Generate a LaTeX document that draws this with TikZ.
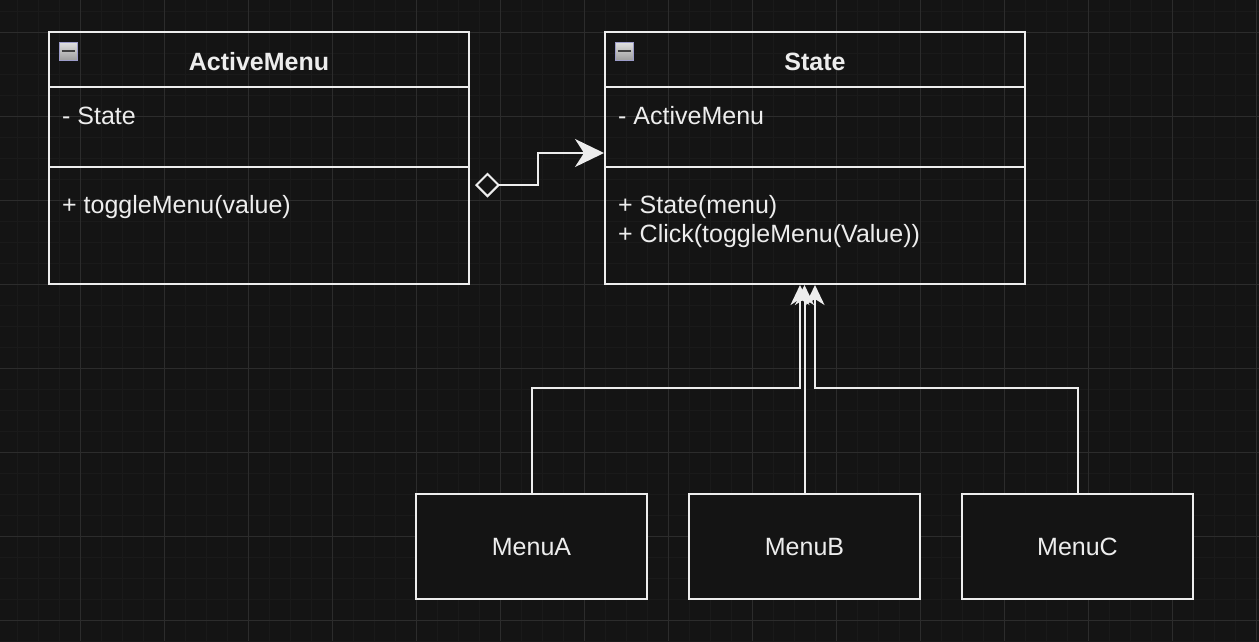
\documentclass[tikz,border=0pt]{standalone}
\usepackage{fontspec}
\setmainfont{Liberation Sans}
\usetikzlibrary{positioning,arrows.meta}

\definecolor{canvas}{HTML}{141414}
\definecolor{minorgrid}{HTML}{1A1A1A}
\definecolor{majorgrid}{HTML}{2C2C2C}
\definecolor{ink}{HTML}{EDEDED}

\tikzset{
  umlbox/.style={draw=ink,line width=2pt,fill=canvas,inner sep=0pt},
  classbox/.style={draw=ink,line width=2pt,inner sep=0pt,minimum width=420pt,minimum height=252pt},
  umltext/.style={text=ink,inner sep=0pt,font=\fontsize{25}{29}\selectfont},
  togglebox/.style={draw=gray!70!blue!60,line width=1pt,top color=white!88!black,bottom color=white!62!black,minimum size=18pt,inner sep=0pt},
  umledge/.style={draw=ink,line width=2pt},
}

\begin{document}
\begin{tikzpicture}[x=1pt,y=-1pt,>=Stealth,line join=miter]
%% canvas
  \useasboundingbox (0,0) rectangle (1259,641);
  \fill[canvas] (0,0) rectangle (1259,641);
  \foreach \gx in {-4,17,...,1259} \draw[minorgrid,line width=1pt] (\gx,0) -- (\gx,641);
  \foreach \gy in {11,32,...,641} \draw[minorgrid,line width=1pt] (0,\gy) -- (1259,\gy);
  \foreach \gx in {80,164,...,1259} \draw[majorgrid,line width=1pt] (\gx,0) -- (\gx,641);
  \foreach \gy in {32,116,...,641} \draw[majorgrid,line width=1pt] (0,\gy) -- (1259,\gy);

%% classes
  \node (activeMenu) at (259,158) [classbox] {};
  \node (state) at (815,158) [classbox] {};
  \foreach \cls in {activeMenu,state} {
    \draw[umledge] (\cls.west |- 0,87) -- (\cls.east |- 0,87);
    \draw[umledge] (\cls.west |- 0,167) -- (\cls.east |- 0,167);
  }

  \node (activeMenuToggle) at (68,51) [togglebox] {};
  \node (stateToggle) at (624,51) [togglebox] {};
  \foreach \tg in {activeMenuToggle,stateToggle}
    \draw[black!75,line width=2pt] ([xshift=3pt]\tg.west) -- ([xshift=-3pt]\tg.east);

  \node (activeMenuTitle) at (259,70) [umltext,anchor=base] {\bfseries ActiveMenu};
  \node (activeMenuAttr) at (62,124) [umltext,anchor=base west] {- State};
  \node (activeMenuOps) at (62,213) [umltext,anchor=base west] {+ toggleMenu(value)};

  \node (stateTitle) at (815,70) [umltext,anchor=base] {\bfseries State};
  \node (stateAttr) at (618,124) [umltext,anchor=base west] {- ActiveMenu};
  \node (stateOps) at (618,242) [umltext,anchor=base west,align=left] {+ State(menu)\\+ Click(toggleMenu(Value))};

%% subclasses
  \node (menuA) at (531.5,546.5) [umlbox,minimum width=231pt,minimum height=105pt] {};
  \node (menuB) at (804.5,546.5) [umlbox,minimum width=231pt,minimum height=105pt] {};
  \node (menuC) at (1077.5,546.5) [umlbox,minimum width=231pt,minimum height=105pt] {};
  \node at (531.5,555) [umltext,anchor=base] {MenuA};
  \node at (804.5,555) [umltext,anchor=base] {MenuB};
  \node at (1077.5,555) [umltext,anchor=base] {MenuC};

%% edges
  \draw[umledge,{Diamond[open,fill=canvas,length=25pt,width=25pt]}-{Stealth[length=29pt,width=28pt,inset=9pt]}]
    ([xshift=5pt,yshift=-27pt]activeMenu.east) -- ++(63,0) |- ([yshift=5pt]state.west);
  \draw[umledge,-{Stealth[length=20pt,width=19pt,inset=6pt]}] (menuA.north) -- ++(0,-105) -| ([xshift=-15pt]state.south);
  \draw[umledge,-{Stealth[length=20pt,width=19pt,inset=6pt]}] (menuB.north) -- (menuB.north |- state.south);
  \draw[umledge,-{Stealth[length=20pt,width=19pt,inset=6pt]}] (menuC.north) -- ++(0,-105) -| (state.south);
%
\end{tikzpicture}
\end{document}
